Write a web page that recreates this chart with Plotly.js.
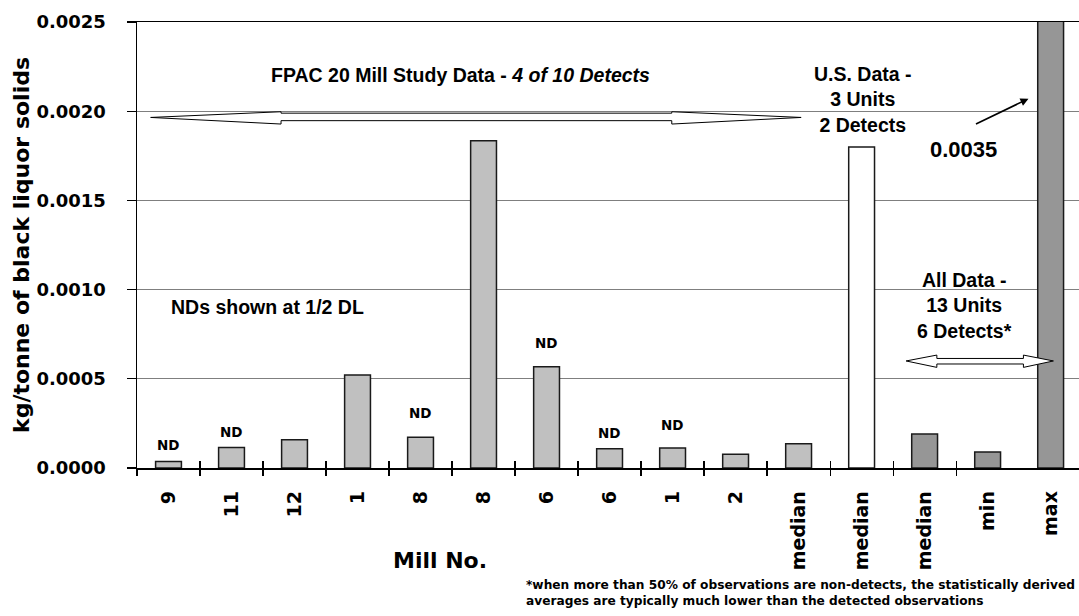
<!DOCTYPE html>
<html>
<head>
<meta charset="utf-8">
<script src="https://cdn.plot.ly/plotly-3.0.1.min.js"></script>
<style>
  html, body { margin: 0; padding: 0; background: #ffffff; overflow: hidden; }
  #chart { width: 1079px; height: 616px; }
</style>
</head>
<body>
<div id="chart"></div>
<script>
// FPAC 20 mill study results (NDs plotted at half the detection limit)
const fpacMills  = ['9', '11', '12', '1', '8', '8', '6', '6', '1', '2', 'median'];
const fpacValues = [0.000037, 0.000115, 0.000159, 0.000521, 0.000173, 0.001835,
                    0.000568, 0.000108, 0.000112, 0.000077, 0.000136];
const fpacND     = [true, true, false, false, true, false, true, true, true, false, false];
// vertical offset (px) of each "ND" tag above its bar
const ndOffsets  = [16, 15, 0, 0, 24, 0, 24, 16, 23, 0, 0];

// U.S. data (3 units, 2 detects)
const usLabels = ['median'];
const usValues = [0.0018];

// All data (13 units, 6 detects)
const allLabels = ['median', 'min', 'max'];
const allValues = [0.00019, 0.00009, 0.0035];

const yTicks = [0, 0.0005, 0.0010, 0.0015, 0.0020, 0.0025];

const tickLabels = fpacMills.concat(usLabels, allLabels);
const nCat = tickLabels.length;
const idx = (start, n) => Array.from({length: n}, (_, i) => start + i);
const fpacX = idx(0, fpacValues.length);
const usX = idx(fpacValues.length, usValues.length);
const allX = idx(fpacValues.length + usValues.length, allValues.length);
const boundaries = idx(0, nCat - 1).map(i => i - 0.5);

const WIDE = 'DejaVu Sans, Arial, sans-serif';
const ARIAL = 'Liberation Sans, Arial, sans-serif';
const AXFONT = {family: WIDE, size: 18, weight: 'bold', color: '#000'};
const XFONT = {family: WIDE, size: 19, weight: 'bold', color: '#000'};
const TXFONT = {family: ARIAL, size: 19.5, weight: 'bold', color: '#000'};
const outline = {color: '#1a1a1a', width: 1.5};

const traces = [
  {type: 'bar', x: fpacX, y: fpacValues, width: 0.41,
   marker: {color: '#c0c0c0', line: outline}, hoverinfo: 'skip'},
  {type: 'bar', x: usX, y: usValues, width: 0.41,
   marker: {color: '#ffffff', line: outline}, hoverinfo: 'skip'},
  {type: 'bar', x: allX, y: allValues, width: 0.41,
   marker: {color: '#969696', line: outline}, hoverinfo: 'skip'},
  // carriers for the category-boundary tick axes
  {type: 'scatter', x: [], y: [], xaxis: 'x2', yaxis: 'y', hoverinfo: 'skip'},
  {type: 'scatter', x: [], y: [], xaxis: 'x3', yaxis: 'y', hoverinfo: 'skip'}
];

const annotations = [];
fpacND.forEach((nd, i) => {
  if (!nd) return;
  annotations.push({
    x: fpacX[i], y: fpacValues[i], xref: 'x', yref: 'y',
    text: 'ND', showarrow: false, xanchor: 'center', yanchor: 'middle', yshift: ndOffsets[i],
    font: {family: WIDE, size: 13.5, weight: 'bold', color: '#000'}
  });
});

const maxVal = allValues[allValues.length - 1];
annotations.push(
  {x: 4.635, y: 0.002205, xref: 'x', yref: 'y', showarrow: false,
   xanchor: 'center', yanchor: 'middle',
   text: 'FPAC 20 Mill Study Data - <i>4 of 10 Detects</i>', font: TXFONT},
  {x: 11.024, y: 0.002064, xref: 'x', yref: 'y', showarrow: false,
   xanchor: 'center', yanchor: 'middle',
   text: 'U.S. Data -<br>3 Units<br>2 Detects', font: TXFONT},
  {x: 0.008, y: 0.0009, xref: 'x', yref: 'y', showarrow: false,
   xanchor: 'left', yanchor: 'middle',
   text: 'NDs shown at 1/2 DL', font: TXFONT},
  {x: 12.627, y: 0.000911, xref: 'x', yref: 'y', showarrow: false,
   xanchor: 'center', yanchor: 'middle',
   text: 'All Data -<br>13 Units<br>6 Detects*', font: TXFONT},
  {x: 12.611, y: 0.001784, xref: 'x', yref: 'y', showarrow: false,
   xanchor: 'center', yanchor: 'middle',
   text: maxVal.toFixed(4), font: Object.assign({}, TXFONT, {size: 22})},
  {x: 13.648, y: 0.00207, xref: 'x', yref: 'y', text: '', showarrow: true,
   ax: -54, ay: 26, arrowhead: 2, arrowsize: 1, arrowwidth: 1.6, arrowcolor: '#000'},
  {x: 303 / 942, y: -92 / 446, xref: 'paper', yref: 'paper', showarrow: false,
   xanchor: 'center', yanchor: 'middle',
   text: 'Mill No.', font: {family: WIDE, size: 22, weight: 'bold', color: '#000'}},
  {x: 387 / 942, y: -108 / 446, xref: 'paper', yref: 'paper', showarrow: false,
   xanchor: 'left', yanchor: 'top', align: 'left',
   text: '*when more than 50% of observations are non-detects, the statistically derived<br>' +
         'averages are typically much lower than the detected observations',
   font: {family: WIDE, size: 12.2, weight: 'bold', color: '#000'}}
);

// double-headed block arrows spanning each group
function blockArrow(x0, x1, xb0, xb1, yc, yHead0, yHead1, yShaft0, yShaft1) {
  return 'M ' + x0 + ',' + yc +
    ' L ' + xb0 + ',' + yHead1 + ' L ' + xb0 + ',' + yShaft1 +
    ' L ' + xb1 + ',' + yShaft1 + ' L ' + xb1 + ',' + yHead1 +
    ' L ' + x1 + ',' + yc +
    ' L ' + xb1 + ',' + yHead0 + ' L ' + xb1 + ',' + yShaft0 +
    ' L ' + xb0 + ',' + yShaft0 + ' L ' + xb0 + ',' + yHead0 + ' Z';
}
const shapes = [
  {type: 'path', xref: 'x', yref: 'y', fillcolor: '#ffffff', line: {color: '#000', width: 1},
   path: blockArrow(-0.283, 10.04, 1.786, 7.987, 0.001965, 0.001928, 0.001997, 0.001947, 0.001989)},
  {type: 'path', xref: 'x', yref: 'y', fillcolor: '#ffffff', line: {color: '#000', width: 1},
   path: blockArrow(11.706, 14.044, 12.194, 13.568, 0.0006, 0.000564, 0.000633, 0.000583, 0.000614)}
];

const xRange = [-0.5, nCat - 0.55];

const layout = {
  width: 1079, height: 616,
  margin: {l: 137, r: 0, t: 22, b: 148, pad: 0},
  paper_bgcolor: '#ffffff', plot_bgcolor: '#ffffff',
  showlegend: false, barmode: 'overlay',
  font: AXFONT,
  xaxis: {
    range: xRange, tickmode: 'array', tickvals: idx(0, nCat), ticktext: tickLabels,
    tickangle: -90, tickfont: XFONT, ticks: '', ticklabelstandoff: 14,
    showgrid: false, zeroline: false, showline: true, linecolor: '#000', linewidth: 1.5,
    mirror: true, fixedrange: true
  },
  xaxis2: {
    overlaying: 'x', anchor: 'y', side: 'bottom', range: xRange,
    tickmode: 'array', tickvals: boundaries, ticks: 'outside', ticklen: 7,
    tickwidth: 1.2, tickcolor: '#000', showticklabels: false,
    showgrid: false, zeroline: false, showline: false
  },
  xaxis3: {
    overlaying: 'x', anchor: 'y', side: 'bottom', range: xRange,
    tickmode: 'array', tickvals: boundaries, ticks: 'inside', ticklen: 7,
    tickwidth: 1.2, tickcolor: '#000', showticklabels: false,
    showgrid: false, zeroline: false, showline: false
  },
  yaxis: {
    range: [0, 0.0025], tickmode: 'array', tickvals: yTicks,
    ticktext: yTicks.map(v => v.toFixed(4)), tickfont: AXFONT,
    ticks: 'outside', ticklen: 9, tickwidth: 1.2, tickcolor: '#000', ticklabelstandoff: 17,
    showgrid: true, gridcolor: '#7f7f7f', gridwidth: 1,
    zeroline: false, showline: true, linecolor: '#000', linewidth: 1.5,
    title: {text: 'kg/tonne of black liquor solids', standoff: 0,
            font: {family: WIDE, size: 22, weight: 'bold', color: '#000'}},
    fixedrange: true
  },
  annotations: annotations,
  shapes: shapes
};

Plotly.newPlot('chart', traces, layout, {staticPlot: true, displayModeBar: false});
</script>
</body>
</html>
